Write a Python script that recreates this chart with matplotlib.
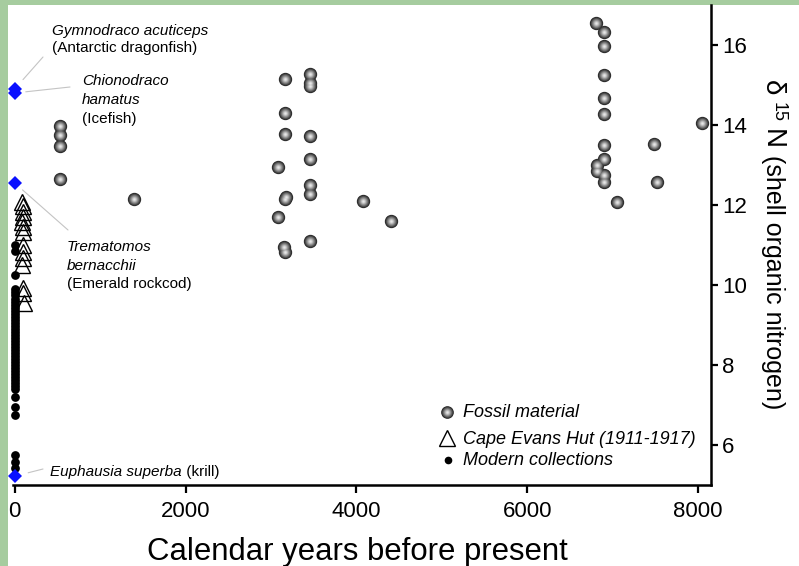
import matplotlib
matplotlib.use("Agg")
import matplotlib.pyplot as plt
from matplotlib.patches import Rectangle

W, H, DPI = 799, 566, 100
plt.rcParams['font.family'] = ['Liberation Sans', 'DejaVu Sans']

# ---------------------------------------------------------------- data
fossil_age = [530, 530, 530, 530,
              1400,
              3080, 3080,
              3160, 3160, 3160, 3170, 3160, 3150, 3160,
              3460, 3460, 3460, 3460, 3460, 3460, 3460, 3460,
              4080, 4400,
              6800, 6810, 6820,
              6900, 6900, 6900, 6900, 6900, 6900, 6900, 6900, 6900,
              7050, 7480, 7520, 8050]
fossil_d15n = [13.98, 13.75, 13.48, 12.65,
               12.15,
               12.95, 11.70,
               15.15, 14.30, 13.78, 12.20, 12.15, 10.95, 10.82,
               15.27, 15.05, 14.97, 13.73, 13.15, 12.50, 12.28, 11.10,
               12.10, 11.60,
               16.55, 13.00, 12.85,
               16.33, 15.98, 15.25, 14.68, 14.28, 13.50, 13.15, 12.75, 12.58,
               12.08, 13.53, 12.58, 14.05]

hut_age = [90, 100, 95, 100, 90, 100, 95, 100, 95, 100, 90, 95, 100, 110]
hut_d15n = [12.08, 11.98, 11.83, 11.70, 11.58, 11.45, 11.33,
            11.00, 10.83, 10.68, 10.50, 9.93, 9.80, 9.55]

modern_d15n = [11.00, 10.85, 10.25,
               9.90, 9.82, 9.74, 9.66, 9.58, 9.50, 9.43, 9.35, 9.27, 9.20,
               9.12, 9.05, 8.97, 8.90, 8.82, 8.75, 8.67, 8.60, 8.52, 8.45,
               8.37, 8.30, 8.22, 8.15, 8.07, 8.00, 7.92, 7.85, 7.77, 7.70,
               7.62, 7.55, 7.47, 7.40,
               7.20, 6.95, 6.75,
               5.75, 5.58, 5.43]
modern_age = [0] * len(modern_d15n)

fish_names = ["Gymnodraco acuticeps", "Chionodraco hamatus",
              "Trematomos bernacchii", "Euphausia superba"]
fish_age = [0, 0, 0, 0]
fish_d15n = [14.90, 14.80, 12.55, 5.22]

x_ticks = [0, 2000, 4000, 6000, 8000]
y_ticks = [6, 8, 10, 12, 14, 16]
legend_labels = ["Fossil material", "Cape Evans Hut (1911-1917)",
                 "Modern collections"]
x_title = "Calendar years before present"


# pixel helpers (origin top-left of the canvas)
def fx(px):
    return px / W


def fy(py):
    return 1 - py / H


fig = plt.figure(figsize=(W / DPI, H / DPI), dpi=DPI, facecolor='#a6cc9f')
fig.patches.append(Rectangle((fx(8), 0), 1 - fx(8), fy(5),
                             transform=fig.transFigure, facecolor='white',
                             edgecolor='none', zorder=-10))

ax = fig.add_axes([fx(13), fy(485), (711 - 13) / W, (485 - 5) / H])
ax.set_facecolor('none')
ax.set_xlim(-20, 8150)
ax.set_ylim(5, 17)

for side in ('left', 'top'):
    ax.spines[side].set_visible(False)
for side in ('bottom', 'right'):
    ax.spines[side].set_linewidth(1.8)
ax.yaxis.tick_right()
ax.set_xticks(x_ticks)
ax.set_yticks(y_ticks)
ax.tick_params(axis='x', direction='out', length=5.5, width=1.6,
               labelsize=16, pad=6)
ax.tick_params(axis='y', direction='out', length=5.0, width=1.6,
               labelsize=16, pad=3)

# fossil material: shaded spheres built from concentric discs
sphere_shades = [(9.6, '#262626'), (8.6, '#3c3c3c'), (7.6, '#555555'),
                 (6.6, '#6e6e6e'), (5.6, '#878787'), (4.6, '#a0a0a0'),
                 (3.6, '#b8b8b8'), (2.6, '#cfcfcf'), (1.5, '#e6e6e6')]
for ms, col in sphere_shades:
    ax.plot(fossil_age, fossil_d15n, 'o', ms=ms, color=col, mew=0,
            ls='none', clip_on=False, zorder=3)

# Cape Evans Hut specimens
ax.plot(hut_age, hut_d15n, '^', ms=11, mfc='none', mec='black', mew=1.0,
        ls='none', clip_on=False, zorder=4)

# modern collections
ax.plot(modern_age, modern_d15n, 'o', ms=6.3, color='black', mew=0,
        ls='none', clip_on=False, zorder=3)

# prey / predator reference values
ax.plot(fish_age, fish_d15n, 'D', ms=7.5, color='#0a10ff', mew=0,
        ls='none', clip_on=False, zorder=5)

# species labels with leader lines
lead = dict(arrowstyle='-', color='#c4c4c4', lw=0.8, shrinkA=0)
label_fs = 11
fig.text(fx(52), fy(35), fish_names[0], style='italic', fontsize=label_fs)
fig.text(fx(52), fy(52), "(Antarctic dragonfish)", fontsize=label_fs)
ax.annotate('', xy=(fish_age[0], fish_d15n[0]), xytext=(fx(43), fy(57)),
            textcoords='figure fraction', arrowprops=dict(lead, shrinkB=9))

genus, species = fish_names[1].split()
fig.text(fx(82), fy(85), genus, style='italic', fontsize=label_fs)
fig.text(fx(82), fy(104), species, style='italic', fontsize=label_fs)
fig.text(fx(82), fy(123), "(Icefish)", fontsize=label_fs)
ax.annotate('', xy=(fish_age[1], fish_d15n[1]), xytext=(fx(70), fy(87)),
            textcoords='figure fraction', arrowprops=dict(lead, shrinkB=8))

genus, species = fish_names[2].split()
fig.text(fx(67), fy(251), genus, style='italic', fontsize=label_fs)
fig.text(fx(67), fy(270), species, style='italic', fontsize=label_fs)
fig.text(fx(67), fy(288), "(Emerald rockcod)", fontsize=label_fs)
ax.annotate('', xy=(fish_age[2], fish_d15n[2]), xytext=(fx(68), fy(230)),
            textcoords='figure fraction', arrowprops=dict(lead, shrinkB=7.5))

krill = fig.text(fx(50), fy(476), fish_names[3], style='italic',
                 fontsize=label_fs)
krill_tag = fig.text(fx(170), fy(476), " (krill)", fontsize=label_fs)
ax.annotate('', xy=(fish_age[3], fish_d15n[3]), xytext=(fx(43), fy(469)),
            textcoords='figure fraction', arrowprops=dict(lead, shrinkB=10))

# legend
leg_x, leg_tx = 447, 463
leg_rows = [(412, 417), (438, 444), (460, 465)]
for ms, col in sphere_shades:
    ax.plot([fx(leg_x)], [fy(leg_rows[0][0])], 'o', ms=ms * 0.95, color=col,
            mew=0, transform=fig.transFigure, clip_on=False, zorder=6)
ax.plot([fx(leg_x)], [fy(leg_rows[1][0])], '^', ms=11, mfc='none',
        mec='black', mew=1.0, transform=fig.transFigure, clip_on=False)
ax.plot([fx(leg_x + 1)], [fy(leg_rows[2][0])], 'o', ms=5.5, color='black',
        mew=0, transform=fig.transFigure, clip_on=False)
for (my, base), lab in zip(leg_rows, legend_labels):
    fig.text(fx(leg_tx), fy(base), lab, style='italic', fontsize=13)

# axis titles
fig.text(fx(357), fy(560), x_title, ha='center', va='baseline', fontsize=22.4)

ylab = dict(rotation=-90, rotation_mode='anchor', ha='left', va='baseline')
fig.text(fx(765), fy(80), "\u03b4", fontsize=20, **ylab)
fig.text(fx(774), fy(102), "15", fontsize=13, **ylab)
fig.text(fx(765), fy(129), "N", fontsize=20, **ylab)
fig.text(fx(766), fy(155), "(shell organic nitrogen)", fontsize=18, **ylab)

# put "(krill)" right after the italic species name
fig.canvas.draw()
bb = krill.get_window_extent()
krill_tag.set_position((bb.x1 / W, fy(476)))

fig.savefig("out.png", dpi=DPI, facecolor=fig.get_facecolor())
